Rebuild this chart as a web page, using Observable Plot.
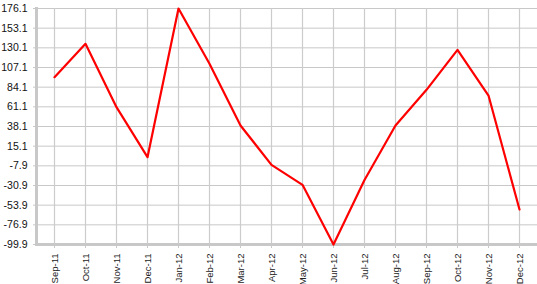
<!DOCTYPE html>
<html>
<head>
<meta charset="utf-8">
<script src="https://cdn.jsdelivr.net/npm/d3@7"></script>
<script src="https://cdn.jsdelivr.net/npm/@observablehq/plot@0.6"></script>
<style>
  html, body { margin: 0; padding: 0; background: #fff; }
  #chart svg { display: block; }
</style>
</head>
<body>
<div id="chart"></div>
<script>
const months = ["Sep-11","Oct-11","Nov-11","Dec-11","Jan-12","Feb-12","Mar-12","Apr-12","May-12","Jun-12","Jul-12","Aug-12","Sep-12","Oct-12","Nov-12","Dec-12"];
const values = [95.8, 134.8, 60.7, 2.2, 176.1, 111.4, 39.3, -6.7, -30.1, -99.9, -24.5, 39.3, 81.0, 127.8, 74.3, -59.0];
const yTicks = [-99.9, -76.9, -53.9, -30.9, -7.9, 15.1, 38.1, 61.1, 84.1, 107.1, 130.1, 153.1, 176.1];

const data = months.map((m, i) => ({month: m, value: values[i]}));

const chart = Plot.plot({
  width: 537,
  height: 284,
  marginTop: 8,
  marginBottom: 40,
  marginLeft: 36,
  marginRight: 0,
  style: {fontFamily: "Liberation Sans, Arial, sans-serif", fontSize: "10px", color: "#1c1c1c", background: "#fff", overflow: "visible"},
  x: {type: "point", domain: months, padding: 0.5},
  y: {domain: [-99.9, 176.1]},
  marks: [
    Plot.ruleY(yTicks, {stroke: "#c8c8c8", strokeWidth: 1}),
    Plot.ruleX(months, {stroke: "#cccccc", strokeWidth: 1.2}),
    Plot.frame({anchor: "left", stroke: "#c8c8c8", strokeWidth: 3}),
    Plot.ruleY([-99.9], {stroke: "#c8c8c8", strokeWidth: 3}),
    Plot.axisY({ticks: yTicks, tickFormat: d => d.toFixed(1), tickSize: 3, tickPadding: 6, stroke: "#c8c8c8", fill: "#111", fontSize: 10.5, label: null}),
    Plot.axisX({tickRotate: -90, tickSize: 4, tickPadding: 5, stroke: "#c8c8c8", fill: "#222", fontSize: 9.5, label: null}),
    Plot.line(data, {x: "month", y: "value", stroke: "#ff0000", strokeWidth: 2.2})
  ]
});
document.getElementById("chart").append(chart);
</script>
</body>
</html>
